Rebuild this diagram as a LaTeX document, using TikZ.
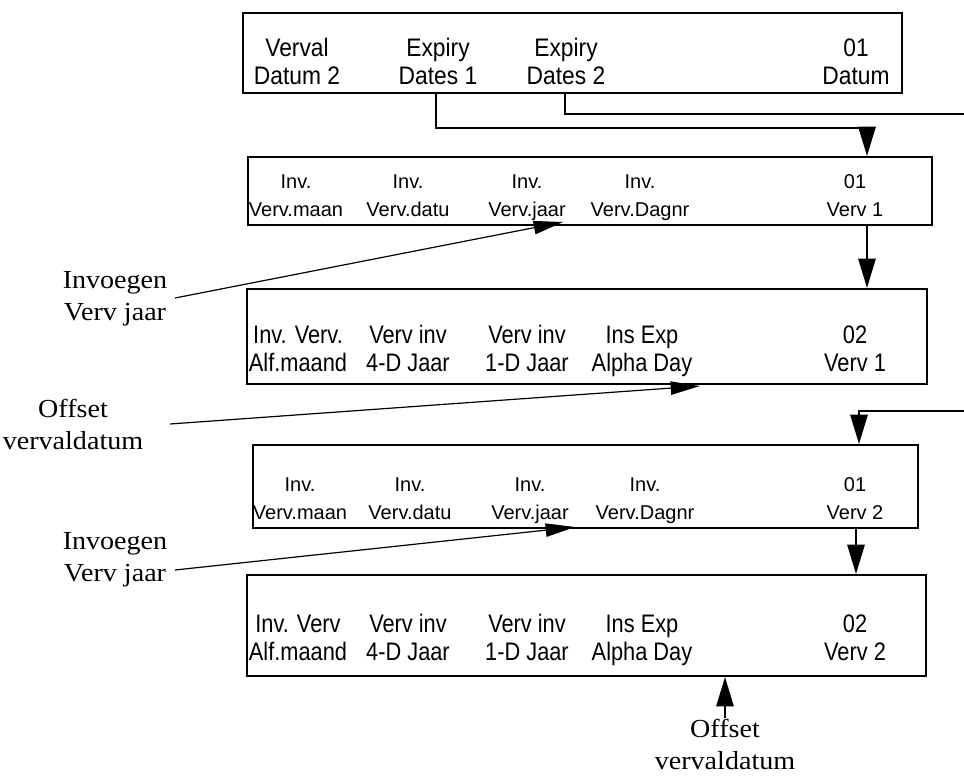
\documentclass[tikz,border=0pt]{standalone}
\usepackage{fontspec}
\setmainfont{Liberation Serif}
\newfontfamily\labfont[FakeStretch=1.08]{Liberation Serif}
\newfontfamily\lcdA[FakeStretch=0.9]{Liberation Sans}
\newfontfamily\lcdB[FakeStretch=1.0]{Liberation Sans}
\newfontfamily\lcdC[FakeStretch=0.86]{Liberation Sans}
\newcommand\twol[2]{\strut #1\\\strut #2}
\usetikzlibrary{arrows.meta,fit}
\tikzset{
 box/.style={draw, line width=1.5pt, inner sep=0pt, fill=white},
 scra/.style={font=\lcdA\fontsize{19}{21}\selectfont, align=center, inner sep=0pt},
 scrb/.style={font=\lcdB\fontsize{15}{21}\selectfont, align=center, inner sep=0pt},
 scrc/.style={font=\lcdC\fontsize{19}{21}\selectfont, align=center, inner sep=0pt},
 lbl/.style={font=\labfont\fontsize{19.5}{24}\selectfont, align=center, inner sep=0pt},
 conn/.style={line width=1.3pt},
 arr/.style={line width=1.3pt, -{Triangle[length=22pt,width=13pt]}},
 lead/.style={line width=0.9pt, -{Triangle[length=22pt,width=10pt]}},
}
\begin{document}
\begin{tikzpicture}[x=0.75pt,y=-0.75pt]
\useasboundingbox (0,0) rectangle (964,778);
% boxes
\node[box, fit={(243,13)(902,93)}] (b1) {};
\node[box, fit={(248,157)(932,225)}] (b2) {};
\node[box, fit={(247,289)(927,384)}] (b3) {};
\node[box, fit={(253,445)(918,528)}] (b4) {};
\node[box, fit={(247,575)(926,676)}] (b5) {};
% box 1 texts
\node[scra] (t11) at (297,65) {\twol{Verval}{Datum 2}};
\node[scra] (t12) at (438,65) {\twol{Expiry}{Dates 1}};
\node[scra] (t13) at (566,65) {\twol{Expiry}{Dates 2}};
\node[scra] (t14) at (856,65) {\twol{01}{Datum}};
% box 2 texts
\node[scrb] (t21) at (296,197) {\twol{Inv.}{Verv.maan}};
\node[scrb] (t22) at (408,197) {\twol{Inv.}{Verv.datu}};
\node[scrb] (t23) at (527,197) {\twol{Inv.}{Verv.jaar}};
\node[scrb] (t24) at (640,197) {\twol{Inv.}{Verv.Dagnr}};
\node[scrb] (t25) at (855,197) {\twol{01}{Verv 1}};
% box 3 texts
\node[scrc] (t31) at (298,352) {\twol{Inv. Verv.}{Alf.maand}};
\node[scrc] (t32) at (408,352) {\twol{Verv inv}{4-D Jaar}};
\node[scrc] (t33) at (527,352) {\twol{Verv inv}{1-D Jaar}};
\node[scrc] (t34) at (642,352) {\twol{Ins Exp}{Alpha Day}};
\node[scrc] (t35) at (855,352) {\twol{02}{Verv 1}};
% box 4 texts
\node[scrb] (t41) at (300,500) {\twol{Inv.}{Verv.maan}};
\node[scrb] (t42) at (410,500) {\twol{Inv.}{Verv.datu}};
\node[scrb] (t43) at (530,500) {\twol{Inv.}{Verv.jaar}};
\node[scrb] (t44) at (645,500) {\twol{Inv.}{Verv.Dagnr}};
\node[scrb] (t45) at (855,500) {\twol{01}{Verv 2}};
% box 5 texts
\node[scrc] (t51) at (298,641) {\twol{Inv. Verv}{Alf.maand}};
\node[scrc] (t52) at (408,641) {\twol{Verv inv}{4-D Jaar}};
\node[scrc] (t53) at (527,641) {\twol{Verv inv}{1-D Jaar}};
\node[scrc] (t54) at (642,641) {\twol{Ins Exp}{Alpha Day}};
\node[scrc] (t55) at (855,641) {\twol{02}{Verv 2}};
% labels
\node[lbl] (l1) at (115,299) {Invoegen\\Verv jaar};
\node[lbl] (l2) at (73,424) {Offset\\vervaldatum};
\node[lbl] (l3) at (115,560) {Invoegen\\Verv jaar};
\node[lbl] (l4) at (725,744) {Offset\\vervaldatum};
% coordinates
\coordinate (c1) at (436,128);
\coordinate (c2) at (867,128);
\coordinate (c3) at (565,114);
\coordinate (e1) at (964,114);
\coordinate (c4) at (859,411);
\coordinate (e2) at (964,411);
\coordinate (s1) at (175,298);
\coordinate (s2) at (170,424);
\coordinate (s3) at (175,570);
\coordinate (m1) at (856,0);
% connectors
\draw[arr] (b1.south -| c1) -- (c1) -- (c2) -- (b2.north -| c2);
\draw[conn] (b1.south -| c3) -- (c3) -- (e1);
\draw[arr] (b2.south -| c2) -- (b3.north -| c2);
\draw[arr] (e2) -- (c4) -- (b4.north -| c4);
\draw[arr] (b4.south -| m1) -- (b5.north -| m1);
\draw[lead] (s1) -- (563,222);
\draw[lead] (s2) -- (700,386);
\draw[lead] (s3) -- (575,527);
\draw[arr] (l4.north) -- (l4.north |- b5.south);
\end{tikzpicture}
\end{document}
